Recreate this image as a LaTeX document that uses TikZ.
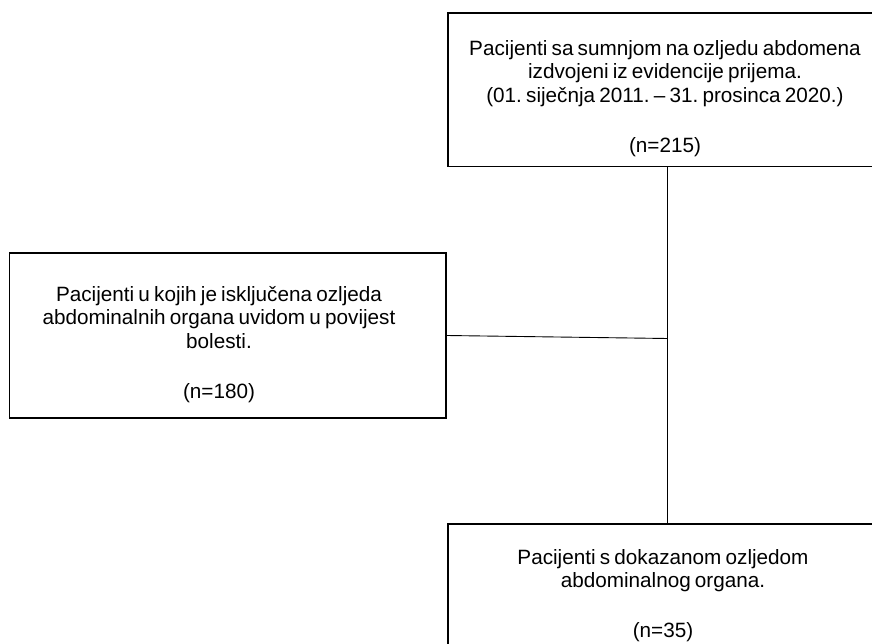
\documentclass[tikz,border=0pt]{standalone}
\usepackage{fontspec}
\setmainfont{Liberation Sans}
\usetikzlibrary{calc}
\newcommand\mytightsp{\frenchspacing\spaceskip=4.2pt plus 1pt minus 1pt\relax}
\begin{document}
\begin{tikzpicture}[x=1pt,y=-1pt,
  box/.style={draw=black,line width=1.8pt,rectangle,inner sep=0pt},
  txt/.style={align=center,inner sep=0pt,
    font=\fontsize{20.7}{23.5}\selectfont,execute at begin node=\mytightsp},
  conn/.style={draw=black,line width=0.9pt}]
\useasboundingbox (0,0) rectangle (872,644);
% boxes
\node[box,minimum width=438pt,minimum height=153.5pt] (T) at (667,89.75) {};
\node[box,minimum width=436.5pt,minimum height=165pt] (L) at (227.75,335.5) {};
\node[box,minimum width=438pt,minimum height=176pt] (B) at (667,612) {};
% texts
\node[txt] (Tt) at (665,98.5) {Pacijenti sa sumnjom na ozljedu abdomena\\izdvojeni iz evidencije prijema.\\(01. siječnja 2011. – 31. prosinca 2020.)\\[26.5pt](n=215)};
\node[txt] (Lt) at (219,344.5) {Pacijenti u kojih je isključena ozljeda\\abdominalnih organa uvidom u povijest\\bolesti.\\[26.5pt](n=180)};
\node[txt] (Bt) at (663,595.5) {Pacijenti s dokazanom ozljedom\\abdominalnog organa.\\[26.5pt](n=35)};
% connectors
\coordinate (J) at ($(T.south)!0.481!(B.north)$);
\draw[conn] (T.south) -- (B.north);
\draw[conn] (L.east) -- (J);
\end{tikzpicture}
\end{document}
